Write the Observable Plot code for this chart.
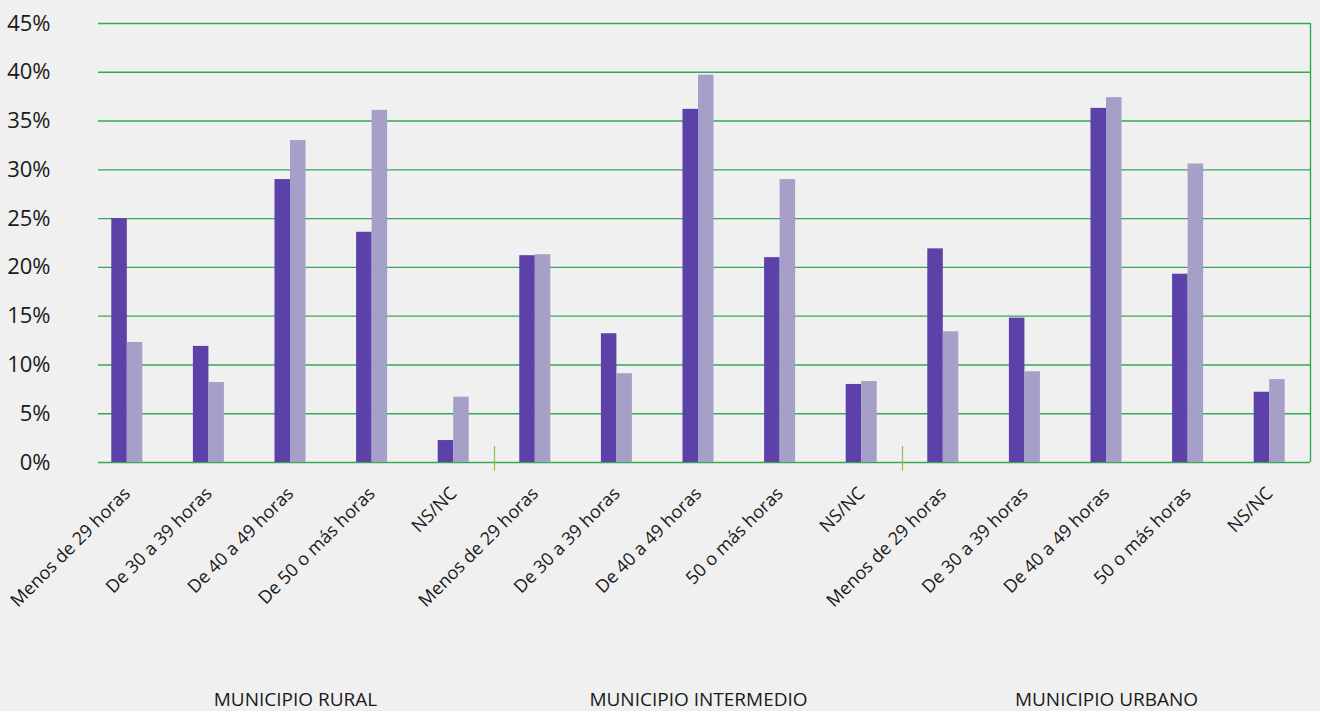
<!DOCTYPE html>
<html>
<head>
<meta charset="utf-8">
<script src="https://cdn.jsdelivr.net/npm/d3@7"></script>
<script src="https://cdn.jsdelivr.net/npm/@observablehq/plot@0.6"></script>
<style>
  html, body { margin: 0; padding: 0; background: #f0f0f0; }
  #chart { width: 1320px; height: 711px; }
</style>
</head>
<body>
<div id="chart"></div>
<script>
const groups = ["MUNICIPIO RURAL", "MUNICIPIO INTERMEDIO", "MUNICIPIO URBANO"];
const categoriesRural = ["Menos de 29 horas", "De 30 a 39 horas", "De 40 a 49 horas", "De 50 o más horas", "NS/NC"];
const categoriesIntermedio = ["Menos de 29 horas", "De 30 a 39 horas", "De 40 a 49 horas", "50 o más horas", "NS/NC"];
const categoriesUrbano = ["Menos de 29 horas", "De 30 a 39 horas", "De 40 a 49 horas", "50 o más horas", "NS/NC"];
const seriesDark = [25.0, 11.9, 29.0, 23.6, 2.25, 21.2, 13.2, 36.2, 21.0, 8.0, 21.9, 14.8, 36.3, 19.3, 7.2];
const seriesLight = [12.3, 8.2, 33.0, 36.1, 6.7, 21.3, 9.1, 39.7, 29.0, 8.3, 13.4, 9.3, 37.4, 30.6, 8.5];
const yTicks = [0, 5, 10, 15, 20, 25, 30, 35, 40, 45];

const catLists = [categoriesRural, categoriesIntermedio, categoriesUrbano];
const rows = [];
catLists.forEach((cats, g) => cats.forEach((c, i) => {
  const idx = g * 5 + i;
  rows.push({key: g + "|" + c, label: c, group: groups[g], dark: seriesDark[idx], light: seriesLight[idx]});
}));
const domain = rows.map(r => r.key);
const groupMid = groups.map((gname, g) => ({key: domain[g * 5 + 2], name: gname}));
const separators = [domain[4], domain[9]].map(k => ({key: k}));
const lastKey = [{key: domain[domain.length - 1]}];

const W = 1320, H = 711;
const mL = 86, mR = 10, mT = 23, mB = 249;
const step = (W - mL - mR) / domain.length;
const bw = step * 0.38;
const green = "#34a853";
const font = "'Open Sans', 'Noto Sans', sans-serif";

const chart = Plot.plot({
  width: W,
  height: H,
  marginLeft: mL,
  marginRight: mR,
  marginTop: mT,
  marginBottom: mB,
  style: {background: "#f0f0f0", fontFamily: font, fontSize: "18px", color: "#1a1a1a"},
  x: {domain, paddingInner: 0.62, paddingOuter: 0.31, align: 0.5, round: false, label: null},
  y: {domain: [0, 45], label: null},
  marks: [
    Plot.ruleY(yTicks, {stroke: green, strokeWidth: 1.4, insetLeft: 12}),
    Plot.ruleX(lastKey, {x: "key", y1: 0, y2: 45, dx: step / 2, stroke: green, strokeWidth: 1.4}),
    Plot.barY(rows, {x: "key", y: "dark", fill: "#5b41a8", insetRight: bw / 2}),
    Plot.barY(rows, {x: "key", y: "light", fill: "#a69fc8", insetLeft: bw / 2}),
    Plot.ruleX(separators, {x: "key", y1: -0.9, y2: 1.65, dx: step / 2, stroke: "#8bc34a", strokeWidth: 1.2}),
    Plot.axisY({ticks: yTicks, tickFormat: d => d + "%", tickSize: 0, tickPadding: 36, fontSize: 22, fill: "#1a1a1a", label: null}),
    Plot.axisX({tickFormat: d => d.split("|")[1], tickRotate: -45, tickSize: 0, tickPadding: 28, fontSize: 18, fill: "#1a1a1a", label: null}),
    Plot.text(groupMid.slice(0, 1), {x: "key", y: 0, text: "name", dy: 237, dx: 5, fontSize: 19, fill: "#1a1a1a"}),
    Plot.text(groupMid.slice(1), {x: "key", y: 0, text: "name", dy: 237, fontSize: 19, fill: "#1a1a1a"})
  ]
});
document.getElementById("chart").appendChild(chart);
</script>
</body>
</html>
